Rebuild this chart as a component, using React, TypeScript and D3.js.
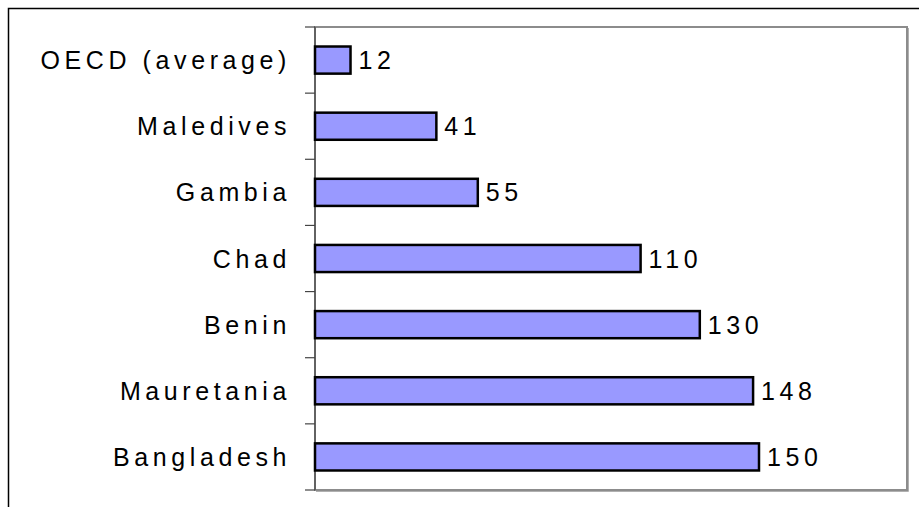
import React, { useRef, useEffect } from 'react';
import * as d3 from 'd3';

const countries = ['OECD (average)', 'Maledives', 'Gambia', 'Chad', 'Benin', 'Mauretania', 'Bangladesh'];
const values = [12, 41, 55, 110, 130, 148, 150];

const width = 919;
const height = 507;

const App: React.FC = () => {
    const svgRef = useRef<SVGSVGElement | null>(null);

    useEffect(() => {
        const svg = d3.select(svgRef.current);
        svg.selectAll('*').remove();

        const margin = { top: 27, right: 12, bottom: 17, left: 315 };
        const innerWidth = width - margin.left - margin.right;
        const innerHeight = height - margin.top - margin.bottom;

        // outer frame (only top and left edges fall inside the picture)
        svg.append('rect')
            .attr('x', 8.5)
            .attr('y', 8.5)
            .attr('width', 1000)
            .attr('height', 700)
            .attr('fill', 'white')
            .attr('stroke', 'black')
            .attr('stroke-width', 1.5);

        const g = svg.append('g')
            .attr('transform', `translate(${margin.left},${margin.top})`);

        const x = d3.scaleLinear().domain([0, 200]).range([0, innerWidth]);
        const y = d3.scaleBand<string>()
            .domain(countries)
            .range([0, innerHeight])
            .paddingInner(0.59)
            .paddingOuter(0.295);

        // plot area border, with the darker grey right/bottom edge
        g.append('rect')
            .attr('x', 0)
            .attr('y', 0)
            .attr('width', innerWidth)
            .attr('height', innerHeight)
            .attr('fill', 'none')
            .attr('stroke', '#8c8c8c')
            .attr('stroke-width', 2);
        g.append('path')
            .attr('d', `M${innerWidth + 1.5},1 V${innerHeight + 1.5} H1`)
            .attr('fill', 'none')
            .attr('stroke', '#b0b0b0')
            .attr('stroke-width', 1);

        // y axis with ticks at band edges
        const step = innerHeight / countries.length;
        const edges = d3.range(countries.length + 1).map(i => i * step);
        g.append('line')
            .attr('x1', 0).attr('x2', 0)
            .attr('y1', 0).attr('y2', innerHeight)
            .attr('stroke', '#555')
            .attr('stroke-width', 1.5);
        g.selectAll('.tick')
            .data(edges)
            .enter()
            .append('line')
            .attr('x1', -10).attr('x2', 0)
            .attr('y1', d => d).attr('y2', d => d)
            .attr('stroke', '#444')
            .attr('stroke-width', 1.2);

        // bars
        g.selectAll('.bar')
            .data(values)
            .enter()
            .append('rect')
            .attr('x', 0)
            .attr('y', (d, i) => y(countries[i]) as number)
            .attr('width', d => x(d))
            .attr('height', y.bandwidth())
            .attr('fill', '#9999ff')
            .attr('stroke', 'black')
            .attr('stroke-width', 2.5);

        const font = '"Liberation Sans", Arial, sans-serif';

        // category labels
        g.selectAll('.cat')
            .data(countries)
            .enter()
            .append('text')
            .attr('x', -24)
            .attr('y', d => (y(d) as number) + y.bandwidth() / 2)
            .attr('dy', '0.36em')
            .attr('text-anchor', 'end')
            .attr('font-family', font)
            .attr('font-size', 25)
            .attr('letter-spacing', 4.6)
            .attr('fill', 'black')
            .text(d => d);

        // value labels
        g.selectAll('.val')
            .data(values)
            .enter()
            .append('text')
            .attr('x', d => x(d) + 8)
            .attr('y', (d, i) => (y(countries[i]) as number) + y.bandwidth() / 2)
            .attr('dy', '0.36em')
            .attr('font-family', font)
            .attr('font-size', 25)
            .attr('letter-spacing', 4.6)
            .attr('fill', 'black')
            .text(d => String(d));
    }, []);

    return (
        <div style={{ position: 'fixed', left: 0, top: 0 }}>
            <svg ref={svgRef} width={width} height={height} style={{ display: 'block', background: 'white' }}></svg>
        </div>
    );
};

export default App;
